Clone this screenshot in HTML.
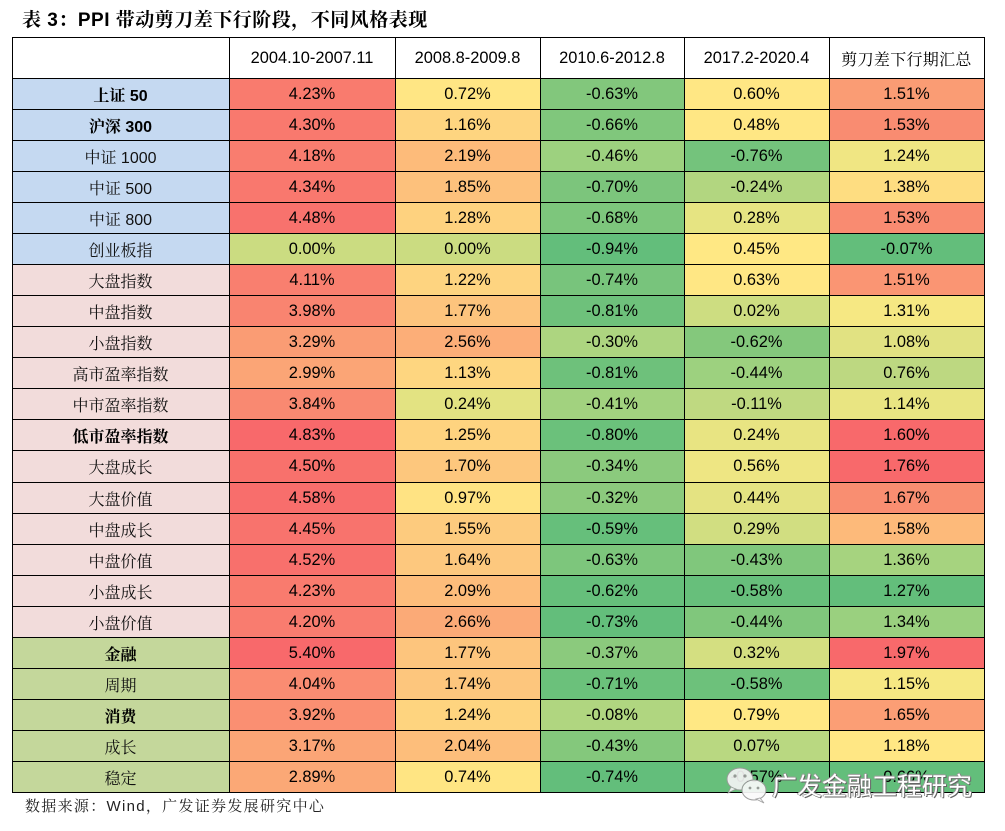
<!DOCTYPE html>
<html><head><meta charset="utf-8">
<style>
*{margin:0;padding:0;box-sizing:border-box}
body{width:1005px;height:831px;background:#fff;position:relative;overflow:hidden;font-family:"Liberation Sans","Noto Serif CJK SC",serif;color:#000}
.title{position:absolute;left:22px;top:9px;font-size:19px;line-height:24px;font-weight:700;letter-spacing:0.5px;font-family:"Liberation Sans","Noto Serif CJK SC",serif;white-space:nowrap}
.r{position:absolute;left:0;width:1005px}
.c{position:absolute;top:0;height:100%;display:flex;align-items:center;justify-content:center;font-size:16.4px;white-space:nowrap;padding-top:1px}
.c0{left:12px;width:217px;font-size:16px;color:#111}
.c1{left:229px;width:166px}
.c2{left:395px;width:145px}
.c3{left:540px;width:144px}
.c4{left:684px;width:145px}
.c5{left:829px;width:155px}
.b{font-weight:700;color:#000}
.bl{background:#C5D9F1}
.pk{background:#F2DCDB}
.gr{background:#C4D79B}
.hd{font-size:16.4px}
.hz{font-size:16px;font-family:"Noto Serif CJK SC",serif;letter-spacing:0.3px}
.foot{position:absolute;left:25px;top:797px;font-size:15px;line-height:20px;letter-spacing:1.3px;color:#222;white-space:nowrap}
.wm{position:absolute;left:772px;top:769px;font-size:25px;line-height:32px;font-family:"Noto Sans CJK SC",sans-serif;color:#fff;white-space:nowrap;text-shadow:1px 1px 0 #666,-1px 0 0 #999,0 -1px 0 #999,1px 0 0 #777}
</style></head><body>
<div class="title">表 3：PPI 带动剪刀差下行阶段，不同风格表现</div>

<div class="r" style="top:38px;height:40px">
<div class="c c0"></div>
<div class="c c1 hd">2004.10-2007.11</div>
<div class="c c2 hd">2008.8-2009.8</div>
<div class="c c3 hd">2010.6-2012.8</div>
<div class="c c4 hd">2017.2-2020.4</div>
<div class="c c5 hz">剪刀差下行期汇总</div>
</div>

<div class="r" style="top:78px;height:31px">
<div class="c c0 b bl">上证 50</div>
<div class="c c1" style="background:#F97B6E">4.23%</div>
<div class="c c2" style="background:#FFE684">0.72%</div>
<div class="c c3" style="background:#82C77C">-0.63%</div>
<div class="c c4" style="background:#FFE784">0.60%</div>
<div class="c c5" style="background:#FA9C74">1.51%</div>
</div>
<div class="r" style="top:109px;height:31px">
<div class="c c0 b bl">沪深 300</div>
<div class="c c1" style="background:#F9796E">4.30%</div>
<div class="c c2" style="background:#FED580">1.16%</div>
<div class="c c3" style="background:#80C77C">-0.66%</div>
<div class="c c4" style="background:#FFE784">0.48%</div>
<div class="c c5" style="background:#F98C71">1.53%</div>
</div>
<div class="r" style="top:140px;height:31px">
<div class="c c0 bl">中证 1000</div>
<div class="c c1" style="background:#F97D6F">4.18%</div>
<div class="c c2" style="background:#FDBB7A">2.19%</div>
<div class="c c3" style="background:#9DD17F">-0.46%</div>
<div class="c c4" style="background:#74C37C">-0.76%</div>
<div class="c c5" style="background:#F0E683">1.24%</div>
</div>
<div class="r" style="top:171px;height:31px">
<div class="c c0 bl">中证 500</div>
<div class="c c1" style="background:#F9786E">4.34%</div>
<div class="c c2" style="background:#FDC17C">1.85%</div>
<div class="c c3" style="background:#7CC57C">-0.70%</div>
<div class="c c4" style="background:#B2D680">-0.24%</div>
<div class="c c5" style="background:#FEDD81">1.38%</div>
</div>
<div class="r" style="top:202px;height:31px">
<div class="c c0 bl">中证 800</div>
<div class="c c1" style="background:#F8726D">4.48%</div>
<div class="c c2" style="background:#FED27F">1.28%</div>
<div class="c c3" style="background:#7DC67C">-0.68%</div>
<div class="c c4" style="background:#E6E482">0.28%</div>
<div class="c c5" style="background:#F98B71">1.53%</div>
</div>
<div class="r" style="top:233px;height:31px">
<div class="c c0 bl">创业板指</div>
<div class="c c1" style="background:#CBDC81">0.00%</div>
<div class="c c2" style="background:#CBDC81">0.00%</div>
<div class="c c3" style="background:#63BE7B">-0.94%</div>
<div class="c c4" style="background:#FFE884">0.45%</div>
<div class="c c5" style="background:#63BE7B">-0.07%</div>
</div>
<div class="r" style="top:264px;height:31px">
<div class="c c0 pk">大盘指数</div>
<div class="c c1" style="background:#F97F6F">4.11%</div>
<div class="c c2" style="background:#FED480">1.22%</div>
<div class="c c3" style="background:#78C47C">-0.74%</div>
<div class="c c4" style="background:#FFE784">0.63%</div>
<div class="c c5" style="background:#FA9573">1.51%</div>
</div>
<div class="r" style="top:295px;height:31px">
<div class="c c0 pk">中盘指数</div>
<div class="c c1" style="background:#F98470">3.98%</div>
<div class="c c2" style="background:#FDC47D">1.77%</div>
<div class="c c3" style="background:#6EC17B">-0.81%</div>
<div class="c c4" style="background:#CDDD81">0.02%</div>
<div class="c c5" style="background:#F6E883">1.31%</div>
</div>
<div class="r" style="top:326px;height:31px">
<div class="c c0 pk">小盘指数</div>
<div class="c c1" style="background:#FA9C74">3.29%</div>
<div class="c c2" style="background:#FCAE78">2.56%</div>
<div class="c c3" style="background:#ADD580">-0.30%</div>
<div class="c c4" style="background:#84C87C">-0.62%</div>
<div class="c c5" style="background:#E1E282">1.08%</div>
</div>
<div class="r" style="top:357px;height:31px">
<div class="c c0 pk">高市盈率指数</div>
<div class="c c1" style="background:#FBA576">2.99%</div>
<div class="c c2" style="background:#FED680">1.13%</div>
<div class="c c3" style="background:#6EC17B">-0.81%</div>
<div class="c c4" style="background:#9DD17F">-0.44%</div>
<div class="c c5" style="background:#BDD881">0.76%</div>
</div>
<div class="r" style="top:388px;height:31px">
<div class="c c0 pk">中市盈率指数</div>
<div class="c c1" style="background:#F98971">3.84%</div>
<div class="c c2" style="background:#E3E382">0.24%</div>
<div class="c c3" style="background:#A2D27F">-0.41%</div>
<div class="c c4" style="background:#BFD981">-0.11%</div>
<div class="c c5" style="background:#E9E582">1.14%</div>
</div>
<div class="r" style="top:419px;height:31px">
<div class="c c0 b pk">低市盈率指数</div>
<div class="c c1" style="background:#F8696B">4.83%</div>
<div class="c c2" style="background:#FED37F">1.25%</div>
<div class="c c3" style="background:#6BC17B">-0.80%</div>
<div class="c c4" style="background:#E8E482">0.24%</div>
<div class="c c5" style="background:#F8696B">1.60%</div>
</div>
<div class="r" style="top:450px;height:32px">
<div class="c c0 pk">大盘成长</div>
<div class="c c1" style="background:#F8716C">4.50%</div>
<div class="c c2" style="background:#FDC77D">1.70%</div>
<div class="c c3" style="background:#8BCA7D">-0.34%</div>
<div class="c c4" style="background:#EEE683">0.56%</div>
<div class="c c5" style="background:#F8696B">1.76%</div>
</div>
<div class="r" style="top:482px;height:31px">
<div class="c c0 pk">大盘价值</div>
<div class="c c1" style="background:#F86E6C">4.58%</div>
<div class="c c2" style="background:#FFE383">0.97%</div>
<div class="c c3" style="background:#8CCA7D">-0.32%</div>
<div class="c c4" style="background:#E4E382">0.44%</div>
<div class="c c5" style="background:#F98E71">1.67%</div>
</div>
<div class="r" style="top:513px;height:31px">
<div class="c c0 pk">中盘成长</div>
<div class="c c1" style="background:#F8736D">4.45%</div>
<div class="c c2" style="background:#FDCB7E">1.55%</div>
<div class="c c3" style="background:#66BF7B">-0.59%</div>
<div class="c c4" style="background:#D1DE81">0.29%</div>
<div class="c c5" style="background:#FDBA7A">1.58%</div>
</div>
<div class="r" style="top:544px;height:31px">
<div class="c c0 pk">中盘价值</div>
<div class="c c1" style="background:#F8706C">4.52%</div>
<div class="c c2" style="background:#FDC87E">1.64%</div>
<div class="c c3" style="background:#7DC67C">-0.63%</div>
<div class="c c4" style="background:#80C77C">-0.43%</div>
<div class="c c5" style="background:#A6D37F">1.36%</div>
</div>
<div class="r" style="top:575px;height:31px">
<div class="c c0 pk">小盘成长</div>
<div class="c c1" style="background:#F97B6E">4.23%</div>
<div class="c c2" style="background:#FDBD7B">2.09%</div>
<div class="c c3" style="background:#66BF7B">-0.62%</div>
<div class="c c4" style="background:#67BF7B">-0.58%</div>
<div class="c c5" style="background:#63BE7B">1.27%</div>
</div>
<div class="r" style="top:606px;height:31px">
<div class="c c0 pk">小盘价值</div>
<div class="c c1" style="background:#F97C6F">4.20%</div>
<div class="c c2" style="background:#FBAA77">2.66%</div>
<div class="c c3" style="background:#63BE7B">-0.73%</div>
<div class="c c4" style="background:#80C77C">-0.44%</div>
<div class="c c5" style="background:#9AD07F">1.34%</div>
</div>
<div class="r" style="top:637px;height:31px">
<div class="c c0 b gr">金融</div>
<div class="c c1" style="background:#F8696B">5.40%</div>
<div class="c c2" style="background:#FDC57D">1.77%</div>
<div class="c c3" style="background:#8BCA7D">-0.37%</div>
<div class="c c4" style="background:#D4DF81">0.32%</div>
<div class="c c5" style="background:#F8696B">1.97%</div>
</div>
<div class="r" style="top:668px;height:31px">
<div class="c c0 gr">周期</div>
<div class="c c1" style="background:#FA8C72">4.04%</div>
<div class="c c2" style="background:#FDC67D">1.74%</div>
<div class="c c3" style="background:#6BC17B">-0.71%</div>
<div class="c c4" style="background:#6DC17B">-0.58%</div>
<div class="c c5" style="background:#F6E883">1.15%</div>
</div>
<div class="r" style="top:699px;height:31px">
<div class="c c0 b gr">消费</div>
<div class="c c1" style="background:#FA8F72">3.92%</div>
<div class="c c2" style="background:#FED47F">1.24%</div>
<div class="c c3" style="background:#B0D680">-0.08%</div>
<div class="c c4" style="background:#FFE884">0.79%</div>
<div class="c c5" style="background:#FB9E75">1.65%</div>
</div>
<div class="r" style="top:730px;height:31px">
<div class="c c0 gr">成长</div>
<div class="c c1" style="background:#FBA576">3.17%</div>
<div class="c c2" style="background:#FDBE7B">2.04%</div>
<div class="c c3" style="background:#84C87C">-0.43%</div>
<div class="c c4" style="background:#B9D881">0.07%</div>
<div class="c c5" style="background:#FFE784">1.18%</div>
</div>
<div class="r" style="top:761px;height:31px">
<div class="c c0 gr">稳定</div>
<div class="c c1" style="background:#FBA876">2.89%</div>
<div class="c c2" style="background:#FFE583">0.74%</div>
<div class="c c3" style="background:#63BE7B">-0.74%</div>
<div class="c c4" style="background:#67BF7B">-0.57%</div>
<div class="c c5" style="background:#63BE7B">0.66%</div>
</div>

<svg width="1005" height="831" style="position:absolute;left:0;top:0" xmlns="http://www.w3.org/2000/svg">
<g stroke="#000" stroke-width="1.2" fill="none" shape-rendering="crispEdges">
<path d="M12.5 37.5V792.5M229.5 37.5V792.5M395.5 37.5V792.5M540.5 37.5V792.5M684.5 37.5V792.5M829.5 37.5V792.5M984.5 37.5V792.5"/>
<path d="M12 37.5H985M12 78.5H985M12 109.5H985M12 140.5H985M12 171.5H985M12 202.5H985M12 233.5H985M12 264.5H985M12 295.5H985M12 326.5H985M12 357.5H985M12 388.5H985M12 419.5H985M12 450.5H985M12 482.5H985M12 513.5H985M12 544.5H985M12 575.5H985M12 606.5H985M12 637.5H985M12 668.5H985M12 699.5H985M12 730.5H985M12 761.5H985M12 792.5H985"/>
</g>
<g opacity="0.92">
<ellipse cx="740" cy="779" rx="13" ry="11" fill="#f4f4f4" stroke="#999" stroke-width="1"/>
<path d="M731 787 L728 793 L736 789 Z" fill="#f4f4f4" stroke="#999" stroke-width="0.8"/>
<circle cx="735" cy="776" r="1.6" fill="#9a9a9a"/>
<circle cx="745" cy="776" r="1.6" fill="#9a9a9a"/>
<ellipse cx="754" cy="790" rx="12" ry="10" fill="#fafafa" stroke="#999" stroke-width="1"/>
<path d="M760 798 L764 803 L756 799 Z" fill="#fafafa" stroke="#999" stroke-width="0.8"/>
<circle cx="750" cy="788" r="1.4" fill="#9a9a9a"/>
<circle cx="758" cy="788" r="1.4" fill="#9a9a9a"/>
</g>
</svg>

<div class="wm">广发金融工程研究</div>
<div class="foot">数据来源：Wind，广发证券发展研究中心</div>
</body></html>
